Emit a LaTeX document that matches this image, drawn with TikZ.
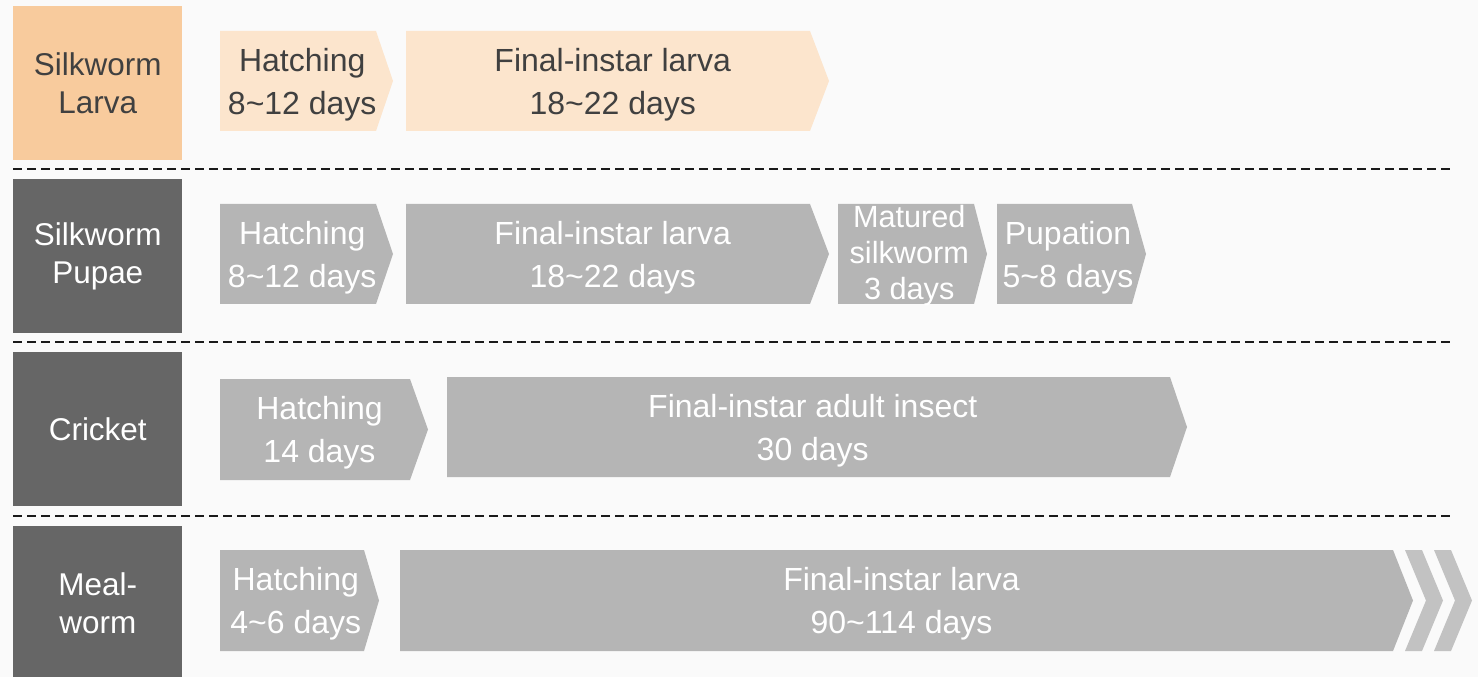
\documentclass[tikz,border=0pt]{standalone}
\usepackage{fontspec}
\setmainfont{Liberation Sans}
\definecolor{bgc}{HTML}{FAFAFA}
\definecolor{orgmain}{HTML}{F8CB9D}
\definecolor{orglight}{HTML}{FCE5CD}
\definecolor{txtdark}{HTML}{404040}
\definecolor{darkbox}{HTML}{666666}
\definecolor{graybox}{HTML}{B5B5B5}
\definecolor{chevc}{HTML}{C2C2C2}
\definecolor{dashc}{HTML}{1A1A1A}
\newcommand{\stagearrow}[9]{%
  \fill[#7] (#2,#3) -- (#4,#3) -- (#5,{(#3+#6)/2}) -- (#4,#6) -- (#2,#6) -- cycle;
  \node[#8] (#1) at ({(#2+(#4+#5)/2)/2},{(#3+#6)/2}) {#9};
}
\begin{document}
\begin{tikzpicture}[x=0.75pt,y=-0.75pt,
  lbltxt/.style={inner sep=0pt, align=center, font={\fontsize{23.6}{28.5}\selectfont}},
  rowlabel/.style={lbltxt, minimum width=126.75pt, minimum height=115.5pt, anchor=north west},
  orglabel/.style={rowlabel, fill=orgmain, text=txtdark},
  darklabel/.style={rowlabel, fill=darkbox, text=white},
  stgtxt/.style={inner sep=0pt, align=center, yshift=-2.5pt, font={\fontsize{24}{32.25}\selectfont}},
  orgtxt/.style={stgtxt, text=txtdark},
  graytxt/.style={stgtxt, text=white},
  tighttxt/.style={inner sep=0pt, align=center, yshift=-1.5pt, text=white, font={\fontsize{23}{27}\selectfont}},
  orgfill/.style={fill=orglight},
  grayfill/.style={fill=graybox},
  chevfill/.style={fill=chevc},
  sep/.style={draw=dashc, line width=1.5pt, dash pattern=on 6.75pt off 3.75pt}
]
\fill[bgc] (0,0) rectangle (1478,677);
\useasboundingbox (0,0) rectangle (1478,677);
\clip (0,0) rectangle (1478,677);

% row labels
\node[orglabel] (l1) at (13,6) {Silkworm\\Larva};
\node[darklabel] (l2) at (13,179) {Silkworm\\Pupae};
\node[darklabel] (l3) at (13,352) {Cricket};
\node[darklabel] (l4) at (13,526) {Meal-\\worm};

% separators
\draw[sep] (13,169.5) -- (1450,169.5);
\draw[sep] (13,342.5) -- (1450,342.5);
\draw[sep] (13,516) -- (1450,516);

% row 1
\stagearrow{a11}{220}{31}{376}{393}{131}{orgfill}{orgtxt}{Hatching\\8\textasciitilde 12 days}
\stagearrow{a12}{406}{31}{810}{829}{131}{orgfill}{orgtxt}{Final-instar larva\\18\textasciitilde 22 days}

% row 2
\stagearrow{a21}{220}{204}{376}{393}{304}{grayfill}{graytxt}{Hatching\\8\textasciitilde 12 days}
\stagearrow{a22}{406}{204}{810}{829}{304}{grayfill}{graytxt}{Final-instar larva\\18\textasciitilde 22 days}
\stagearrow{a23}{838}{204}{974}{987}{304}{grayfill}{tighttxt}{Matured\\silkworm\\3 days}
\stagearrow{a24}{997}{204}{1132}{1146}{304}{grayfill}{graytxt}{Pupation\\5\textasciitilde 8 days}

% row 3
\stagearrow{a31}{220}{379}{410}{428}{480}{grayfill}{graytxt}{Hatching\\14 days}
\stagearrow{a32}{447}{377}{1170}{1187}{477}{grayfill}{graytxt}{Final-instar adult insect\\30 days}

% row 4
\stagearrow{a41}{220}{550}{364}{379}{651}{grayfill}{graytxt}{Hatching\\4\textasciitilde 6 days}
\stagearrow{a42}{400}{550}{1393}{1413}{651}{grayfill}{graytxt}{Final-instar larva\\90\textasciitilde 114 days}
\fill[chevfill] (1405,550) -- (1422,550) -- (1443,600.5) -- (1422,651) -- (1405,651) -- (1426,600.5) -- cycle;
\fill[chevfill] (1434,550) -- (1451,550) -- (1472,600.5) -- (1451,651) -- (1434,651) -- (1455,600.5) -- cycle;
\end{tikzpicture}
\end{document}
